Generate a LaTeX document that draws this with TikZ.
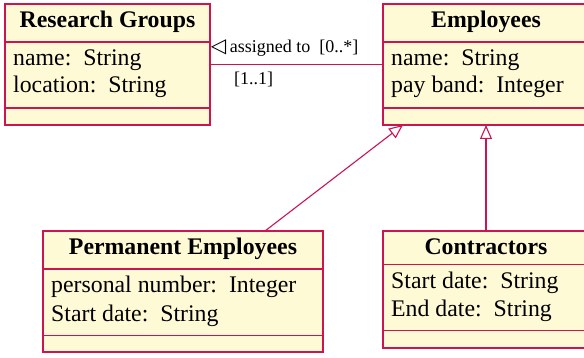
\documentclass[tikz,border=0pt]{standalone}
\usepackage{fontspec}
\setmainfont{Liberation Serif}
\newfontfamily\symfont{DejaVu Sans}
\usetikzlibrary{arrows.meta}
\definecolor{umlred}{RGB}{204,20,80}
\definecolor{umlfill}{RGB}{255,250,214}
\begin{document}
\begin{tikzpicture}[x=1pt,y=1pt,
  umlbox/.style={draw=umlred, fill=umlfill, line width=1.2pt, anchor=north west, inner sep=0pt, outer sep=0pt},
  sepline/.style={draw=umlred, line width=1.2pt},
  conn/.style={draw=umlred, line width=1.1pt},
  gen/.style={conn, -{Triangle[open, length=14pt, width=12pt]}},
  umltitle/.style={font=\fontsize{23.8}{27.5}\selectfont\bfseries, anchor=base, inner sep=0pt},
  umlattr/.style={font=\fontsize{23.8}{27.5}\selectfont, anchor=base west, inner sep=0pt},
  lbl/.style={font=\fontsize{18}{21}\selectfont, anchor=base west, inner sep=0pt}]
\useasboundingbox (0,0) rectangle (584,-358);

% Research Groups
\node[umlbox, minimum width=205pt, minimum height=121pt] (rg) at (5,-4) {};
\draw[sepline] ([yshift=-38pt]rg.north west) -- ([yshift=-38pt]rg.north east);
\draw[sepline] ([yshift=-104pt]rg.north west) -- ([yshift=-104pt]rg.north east);
\node[umltitle] (rgt) at ([yshift=-24pt]rg.north) {Research Groups};
\node[umlattr] (rga1) at ([xshift=8pt,yshift=-62pt]rg.north west) {name:\ \ String};
\node[umlattr] (rga2) at ([xshift=8pt,yshift=-89pt]rg.north west) {location:\ \ String};

% Employees
\node[umlbox, minimum width=206pt, minimum height=121pt] (emp) at (383,-4) {};
\draw[sepline] ([yshift=-38pt]emp.north west) -- ([yshift=-38pt]emp.north east);
\draw[sepline] ([yshift=-104pt]emp.north west) -- ([yshift=-104pt]emp.north east);
\node[umltitle] (empt) at ([yshift=-24pt]emp.north) {Employees};
\node[umlattr] (empa1) at ([xshift=8pt,yshift=-62pt]emp.north west) {name:\ \ String};
\node[umlattr] (empa2) at ([xshift=8pt,yshift=-89pt]emp.north west) {pay band:\ \ Integer};

% Permanent Employees
\node[umlbox, minimum width=280pt, minimum height=121pt] (perm) at (43,-231) {};
\draw[sepline] ([yshift=-38pt]perm.north west) -- ([yshift=-38pt]perm.north east);
\draw[sepline] ([yshift=-104.5pt]perm.north west) -- ([yshift=-104.5pt]perm.north east);
\node[umltitle] (permt) at ([yshift=-24pt]perm.north) {Permanent Employees};
\node[umlattr] (perma1) at ([xshift=8pt,yshift=-62pt]perm.north west) {personal number:\ \ Integer};
\node[umlattr] (perma2) at ([xshift=8pt,yshift=-90.5pt]perm.north west) {Start date:\ \ String};

% Contractors
\node[umlbox, minimum width=206pt, minimum height=117pt] (con) at (383,-231) {};
\draw[sepline] ([yshift=-33.5pt]con.north west) -- ([yshift=-33.5pt]con.north east);
\draw[sepline] ([yshift=-99.5pt]con.north west) -- ([yshift=-99.5pt]con.north east);
\node[umltitle] (cont) at ([yshift=-24pt]con.north) {Contractors};
\node[umlattr] (cona1) at ([xshift=8pt,yshift=-57pt]con.north west) {Start date:\ \ String};
\node[umlattr] (cona2) at ([xshift=8pt,yshift=-85.5pt]con.north west) {End date:\ \ String};

% association
\draw[conn] (rg.east) -- (emp.west);
\node[lbl] (assoc) at (210.7,-53) {{\symfont\fontsize{20}{21}\selectfont ◁}\hspace{3.5pt}assigned to\ \ [0..*]};
\node[lbl] (mult) at (234,-85) {[1..1]};

% generalisations
\draw[gen] ([xshift=222pt]perm.north west) -- ([xshift=20pt]emp.south west);
\draw[gen] (con.north) -- (emp.south);
\end{tikzpicture}
\end{document}
